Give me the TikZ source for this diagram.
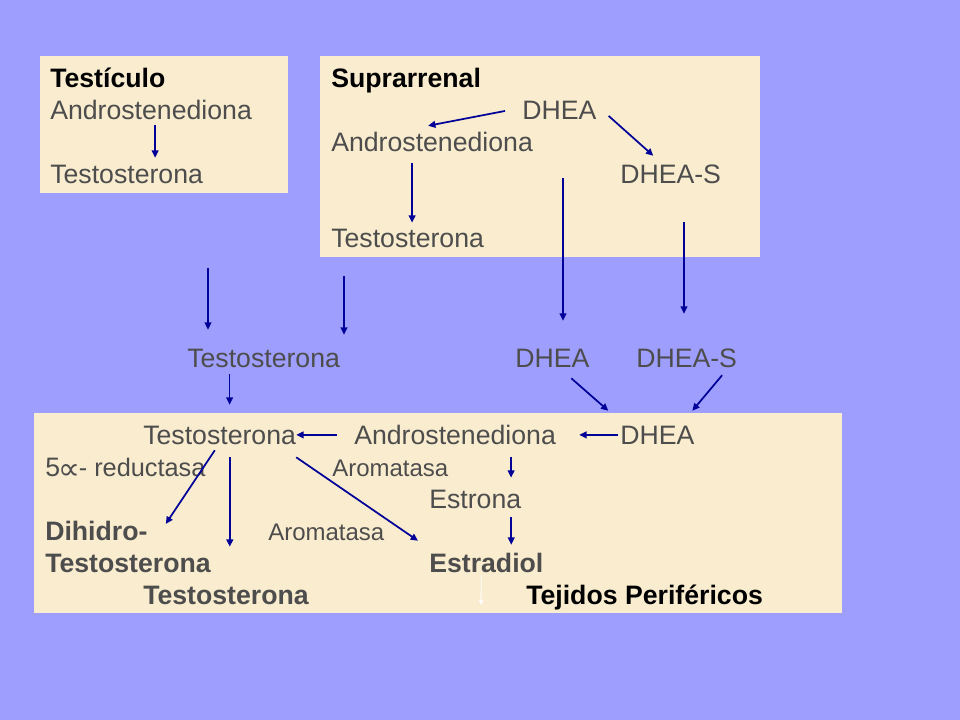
\documentclass[tikz,border=0pt]{standalone}
\usepackage{fontspec}
\setmainfont{Liberation Sans}
\newfontfamily\symfont{DejaVu Sans}
\usetikzlibrary{arrows.meta}
\definecolor{lavender}{RGB}{158,158,255}
\definecolor{parchment}{RGB}{250,236,206}
\definecolor{inkgray}{RGB}{77,77,77}
\definecolor{navy}{RGB}{0,0,153}

\begin{document}
\begin{tikzpicture}[x=0.75pt, y=-0.75pt,
    every node/.style={anchor=base west, inner sep=0pt, text height=14.4pt, text depth=0pt, text=inkgray, font=\fontsize{20}{24}\selectfont},
    head/.style={text=black, font=\fontsize{20}{24}\selectfont\bfseries},
    bold/.style={font=\fontsize{20}{24}\selectfont\bfseries},
    small/.style={font=\fontsize{18}{21}\selectfont},
    arr/.style={-{Triangle[length=5.5pt,width=5pt]}, line width=1.3pt, draw=navy},
    warr/.style={-{Triangle[length=4pt,width=3.5pt]}, line width=0.6pt, draw=white},
    box/.style={fill=parchment}]
            % Background
            \fill[lavender] (0,0) rectangle (960,720);

            % Top left box (Testiculo)
            \fill[box] (40,56) rectangle (288,193);
            \node[head] (Tes-1) at (50,87.5) {Testículo};
            \node (Tes-2) at (50,119.5) {Androstenediona};
            \node (Tes-3) at (50,183.5) {Testosterona};
            \draw[arr, shorten <=4pt, shorten >=4.7pt] ([xshift=3pt]Tes-2.south) -- ([xshift=3pt]Tes-2.south |- Tes-3.north);

            % Top right box (Suprarrenal)
            \fill[box] (320,56) rectangle (760,257);
            \node[head] (Sup-1) at (331,87.5) {Suprarrenal};
            \node (Sup-2) at (522,119.5) {DHEA};
            \node (Sup-3) at (331,151.5) {Androstenediona};
            \node (Sup-4) at (620,183.5) {DHEA-S};
            \node (Sup-5) at (331,247.5) {Testosterona};
            \draw[arr] ([xshift=-12.75pt,yshift=-0.8pt]Sup-2.west) -- ([xshift=-3pt,yshift=4.7pt]Sup-3.north);
            \draw[arr] ([xshift=9pt,yshift=-4.5pt]Sup-2.east) -- ([xshift=-13pt,yshift=6.2pt]Sup-4.north);
            \draw[arr, shorten >=4pt] ([xshift=-15pt,yshift=-8.6pt]Sup-3.south) -- ([xshift=-15pt]Sup-3.south |- Sup-5.north);

            % Middle row (blood)
            \node (Mid-1) at (187,367.5) {Testosterona};
            \node (Mid-2) at (515,367.5) {DHEA};
            \node (Mid-3) at (636,367.5) {DHEA-S};
            \coordinate (Tes-out) at (208,268);
            \coordinate (Sup-out-1) at (344,276);
            \coordinate (Sup-out-2) at (563,178);
            \coordinate (Sup-out-3) at (684,222);
            \draw[arr, shorten >=13.7pt] (Tes-out) -- (Tes-out |- Mid-1.north);
            \draw[arr, shorten >=10pt] (Sup-out-1) -- (Sup-out-1 |- Mid-1.north);
            \draw[arr, shorten >=20.5pt] (Sup-out-2) -- (Sup-out-2 |- Mid-2.north);
            \draw[arr, shorten >=25.7pt] (Sup-out-3) -- (Sup-out-3 |- Mid-3.north);

            % Bottom box (Tejidos perifericos)
            \fill[box] (34,413) rectangle (842,613);
            \node (Per-1) at (143,444.5) {Testosterona};
            \node (Per-2) at (354,444.5) {Androstenediona};
            \node (Per-3) at (620,444.5) {DHEA};
            \node (Per-4) at (45,476.5) {5{\symfont\fontsize{23}{24}\selectfont\kern-1.2pt\lower2.6pt\hbox{∝}\kern-1.2pt}{\fontsize{19}{21}\selectfont- reductasa}};
            \node[small] (Per-5) at (332,476.5) {Aromatasa};
            \node (Per-6) at (429,508.5) {Estrona};
            \node[bold] (Per-7) at (45,540.5) {Dihidro-};
            \node[small] (Per-8) at (268,540.5) {Aromatasa};
            \node[bold] (Per-9) at (45,572.5) {Testosterona};
            \node[bold] (Per-10) at (429,572.5) {Estradiol};
            \node[bold] (Per-11) at (143,604.5) {Testosterona};
            \node[head] (Per-12) at (526,604.5) {Tejidos Periféricos};
            \coordinate (Per-out) at (481,605);

            % Edges into the bottom box
            \draw[arr, shorten >=15.2pt] ([xshift=-25.5pt,yshift=-4.9pt]Mid-1.south) -- ([xshift=-25.5pt]Mid-1.south |- Per-1.north);
            \draw[arr] ([xshift=14.25pt,yshift=-7.9pt]Mid-2.south) -- ([xshift=-36.75pt,yshift=10.7pt]Per-3.north);
            \draw[arr] ([xshift=26.6pt,yshift=-5.6pt]Mid-3.south) -- ([xshift=26.25pt,yshift=10.7pt]Per-3.north);

            % Edges inside the bottom box
            \draw[arr, shorten <=12.75pt] (Per-2.west) -- (Per-1.east);
            \draw[arr, shorten <=1.5pt, shorten >=17.25pt] (Per-3.west) -- (Per-2.east);
            \draw[arr, shorten >=8.5pt] ([xshift=42pt,yshift=-9.4pt]Per-2.south) -- ([xshift=42pt]Per-2.south |- Per-6.north);
            \draw[arr, shorten >=6.2pt] ([xshift=27pt,yshift=-6.4pt]Per-6.south) -- ([xshift=27pt]Per-6.south |- Per-10.north);
            \draw[arr] ([xshift=-3.6pt,yshift=-4.1pt]Per-1.south) -- ([xshift=13.5pt,yshift=5.2pt]Per-7.east);
            \draw[arr, shorten >=28.7pt] ([xshift=7.65pt,yshift=-9.4pt]Per-1.south) -- ([xshift=7.65pt]Per-1.south |- Per-11.north);
            \draw[arr] ([yshift=-9.4pt]Per-1.south east) -- ([xshift=-8.25pt,yshift=9.2pt]Per-10.north west);
            \draw[warr] ([xshift=-3.75pt,yshift=-1.9pt]Per-10.south) -- (Per-out);
\end{tikzpicture}
\end{document}
